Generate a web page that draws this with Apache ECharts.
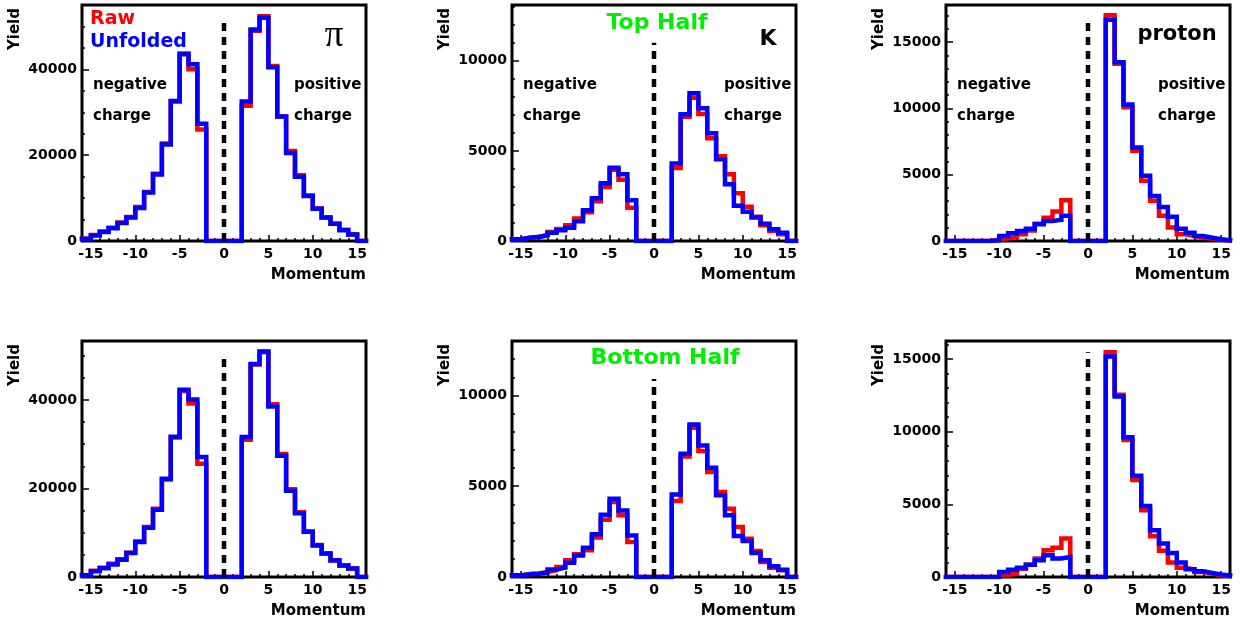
<!DOCTYPE html>
<html>
<head>
<meta charset="utf-8">
<script src="https://cdn.jsdelivr.net/npm/echarts@6/dist/echarts.min.js"></script>
<style>
  html, body { margin: 0; padding: 0; background: #fff; }
  #chart { width: 1244px; height: 628px; }
</style>
</head>
<body>
<div id="chart"></div>
<script>
// Momentum bins: low edges of 1-unit bins spanning -16 .. 16
const binLow = [-16, -15, -14, -13, -12, -11, -10, -9, -8, -7, -6, -5, -4, -3, -2, -1,
                0, 1, 2, 3, 4, 5, 6, 7, 8, 9, 10, 11, 12, 13, 14, 15];
const binHigh = 16;

const xMajorTicks = [-15, -10, -5, 0, 5, 10, 15];

// pi, top half
const piTopRaw = [500, 1400, 2200, 3100, 4300, 5600, 7900, 11400, 15700, 22700, 32500, 43700, 40000, 26000,
                  0, 0, 0, 0, 31500, 49000, 52400, 40800, 29000, 21000, 15300, 10600, 7600, 5500, 4000, 2600, 1500, 0];
const piTopUnf = [500, 1300, 2100, 3000, 4200, 5500, 7700, 11300, 15500, 22500, 32600, 43500, 41200, 27300,
                  0, 0, 0, 0, 32500, 49300, 52000, 40500, 29000, 20500, 15000, 10500, 7500, 5500, 4000, 2500, 1500, 0];
// kaon, top half
const kTopRaw = [100, 180, 230, 330, 500, 670, 880, 1250, 1600, 2200, 3000, 3950, 3400, 1850,
                 0, 0, 0, 0, 4050, 6900, 7950, 7050, 5700, 4700, 3700, 2650, 1900, 1350, 870, 560, 380, 0];
const kTopUnf = [100, 185, 220, 300, 460, 590, 740, 1100, 1700, 2370, 3200, 4070, 3700, 2260,
                 0, 0, 0, 0, 4300, 7040, 8200, 7370, 5980, 4540, 3150, 1950, 1630, 1300, 960, 650, 460, 0];
// proton, top half
const pTopRaw = [0, 0, 0, 0, 0, 100, 200, 300, 500, 800, 1310, 1760, 2220, 3080,
                 0, 0, 0, 0, 17020, 13360, 10080, 6800, 4540, 3030, 1900, 1010, 500, 380, 250, 180, 100, 40];
const pTopUnf = [0, 0, 0, 0, 0, 60, 380, 580, 760, 930, 1260, 1500, 1600, 1900,
                 0, 0, 0, 0, 16690, 13490, 10290, 7060, 4920, 3400, 2570, 1820, 930, 630, 380, 250, 130, 50];
// pi, bottom half
const piBotRaw = [400, 1400, 2100, 3000, 4000, 5500, 8000, 11300, 15400, 22000, 31500, 42000, 39200, 25600,
                  0, 0, 0, 0, 31000, 48000, 51000, 39000, 27800, 19800, 14600, 10300, 7200, 5300, 3700, 2600, 1900, 0];
const piBotUnf = [400, 1300, 2000, 2800, 3900, 5400, 7900, 11100, 15200, 22200, 31700, 42300, 40100, 27100,
                  0, 0, 0, 0, 31600, 48100, 50800, 38500, 27400, 19500, 14400, 10200, 7100, 5300, 3800, 2600, 1900, 0];
// kaon, bottom half
const kBotRaw = [90, 160, 200, 270, 370, 550, 920, 1250, 1470, 2170, 3160, 4130, 3400, 1930,
                 0, 0, 0, 0, 4180, 6640, 8220, 6940, 5780, 4680, 3760, 2750, 2110, 1430, 830, 510, 370, 0];
const kBotUnf = [90, 150, 180, 240, 420, 510, 790, 1190, 1610, 2350, 3430, 4310, 3670, 2290,
                 0, 0, 0, 0, 4550, 6790, 8400, 7250, 6020, 4500, 3400, 2260, 1980, 1320, 920, 590, 400, 0];
// proton, bottom half
const pBotRaw = [0, 0, 0, 0, 0, 0, 160, 230, 575, 850, 1270, 1840, 2020, 2650,
                 0, 0, 0, 0, 15460, 12540, 9430, 6670, 4600, 2800, 1800, 990, 640, 510, 350, 230, 120, 60];
const pBotUnf = [0, 0, 0, 0, 0, 0, 350, 500, 640, 850, 1150, 1500, 1270, 1380,
                 0, 0, 0, 0, 15180, 12420, 9610, 6970, 4880, 3220, 2300, 1660, 990, 530, 390, 280, 180, 100];

// Height of the dashed p = 0 divider in each pad
const dividerTop = [52100, 11000, 16900, 50500, 10900, 15460];
// Y-axis ranges and tick spacing per pad
const yMax = [55000, 13100, 17800, 53300, 13000, 16240];
const yMajor = [20000, 5000, 5000, 20000, 5000, 5000];
const yMinor = [5000, 1000, 1000, 5000, 1000, 1000];

const rawSets = [piTopRaw, kTopRaw, pTopRaw, piBotRaw, kBotRaw, pBotRaw];
const unfSets = [piTopUnf, kTopUnf, pTopUnf, piBotUnf, kBotUnf, pBotUnf];

const FONT = 'DejaVu Sans';
const padLeft = [82, 512, 946];
const padTop = [5, 341];
const padW = 284, padH = 236;

function histPoints(vals) {
  const pts = binLow.map((x, i) => [x, vals[i]]);
  pts.push([binHigh, vals[vals.length - 1]]);
  return pts;
}

const grids = [], xAxes = [], yAxes = [], series = [], graphics = [];

function txt(x, y, text, style, extra) {
  return Object.assign({
    type: 'text', x: x, y: y, z: 20,
    style: Object.assign({
      text: text, fontFamily: FONT, fontWeight: 'bold', fontSize: 15,
      fill: '#000', align: 'left', verticalAlign: 'middle'
    }, style || {})
  }, extra || {});
}

const noLine = { show: false, onZero: false };
const tickLine = { color: '#000', width: 1.5 };

for (let p = 0; p < 6; p++) {
  const row = Math.floor(p / 3), col = p % 3;
  const left = padLeft[col], top = padTop[row];
  grids.push({
    left: left, top: top, width: padW, height: padH,
    show: true, borderColor: '#000', borderWidth: 3, backgroundColor: 'transparent'
  });
  const labelStyle = { color: '#000', fontFamily: FONT, fontWeight: 'bold', fontSize: 14 };
  // minor x ticks (every unit)
  xAxes.push({
    gridIndex: p, type: 'value', min: -16, max: 16, interval: 1, position: 'bottom',
    axisLine: noLine, splitLine: { show: false },
    axisTick: { show: true, inside: true, length: 3, lineStyle: tickLine },
    axisLabel: { show: false }
  });
  // major x ticks with labels
  xAxes.push({
    gridIndex: p, type: 'value', min: -16, max: 16, position: 'bottom',
    axisLine: noLine, splitLine: { show: false },
    axisTick: { show: true, inside: true, length: 6, customValues: xMajorTicks, lineStyle: tickLine },
    axisLabel: Object.assign({ show: true, margin: 6, customValues: xMajorTicks,
                               formatter: v => String(v) }, labelStyle)
  });
  // minor y ticks
  yAxes.push({
    gridIndex: p, type: 'value', min: 0, max: yMax[p], interval: yMinor[p], position: 'left',
    axisLine: noLine, splitLine: { show: false },
    axisTick: { show: true, inside: true, length: 3, lineStyle: tickLine },
    axisLabel: { show: false }
  });
  // major y ticks with labels
  yAxes.push({
    gridIndex: p, type: 'value', min: 0, max: yMax[p], interval: yMajor[p], position: 'left',
    axisLine: noLine, splitLine: { show: false },
    axisTick: { show: true, inside: true, length: 7, lineStyle: tickLine },
    axisLabel: Object.assign({ show: true, margin: 5, showMaxLabel: false,
                               formatter: v => String(v) }, labelStyle)
  });

  const xi = p * 2, yi = p * 2;
  series.push({
    name: 'Raw', type: 'line', xAxisIndex: xi, yAxisIndex: yi,
    data: histPoints(rawSets[p]), step: 'end', symbol: 'none', z: 3,
    lineStyle: { color: '#ff0000', width: 4.5, join: 'miter', cap: 'square' }, animation: false
  });
  series.push({
    name: 'Unfolded', type: 'line', xAxisIndex: xi, yAxisIndex: yi,
    data: histPoints(unfSets[p]), step: 'end', symbol: 'none', z: 4,
    lineStyle: { color: '#0000ff', width: 4.5, join: 'miter', cap: 'square' }, animation: false
  });
  series.push({
    name: 'divider', type: 'line', xAxisIndex: xi, yAxisIndex: yi,
    data: [[0, 0], [0, dividerTop[p]]], symbol: 'none', z: 5, silent: true,
    lineStyle: { color: '#000', width: 4.5, type: [8, 6], cap: 'butt' }, animation: false
  });

  // axis titles
  graphics.push(txt(left - 67, top + 3, 'Yield', { fontSize: 15, align: 'right' }, { rotation: Math.PI / 2 }));
  graphics.push(txt(left + padW, top + 270, 'Momentum', { fontSize: 15, align: 'right' }));

  if (row === 0) {
    graphics.push(txt(left + 11, top + 80, 'negative'));
    graphics.push(txt(left + 11, top + 111, 'charge'));
    graphics.push(txt(left + 212, top + 80, 'positive'));
    graphics.push(txt(left + 212, top + 111, 'charge'));
  }
}

// pad annotations
graphics.push(txt(90, 19, 'Raw', { fontSize: 19, fill: '#ff0000' }));
graphics.push(txt(90, 42, 'Unfolded', { fontSize: 19, fill: '#0000ff' }));
graphics.push(txt(334, 36, 'π', { fontSize: 37, fontWeight: 'normal', fontFamily: 'Liberation Serif', align: 'center' }));
graphics.push(txt(657, 23, 'Top Half', { fontSize: 22, fill: '#00ee00', align: 'center' }));
graphics.push(txt(768, 39, 'K', { fontSize: 22, align: 'center' }));
graphics.push(txt(1177, 35, 'proton', { fontSize: 21, align: 'center' }));
graphics.push(txt(665, 358, 'Bottom Half', { fontSize: 22, fill: '#00ee00', align: 'center' }));

const chart = echarts.init(document.getElementById('chart'), null, { renderer: 'canvas' });
chart.setOption({
  animation: false,
  backgroundColor: '#fff',
  grid: grids,
  xAxis: xAxes,
  yAxis: yAxes,
  series: series,
  graphic: graphics
});
</script>
</body>
</html>
